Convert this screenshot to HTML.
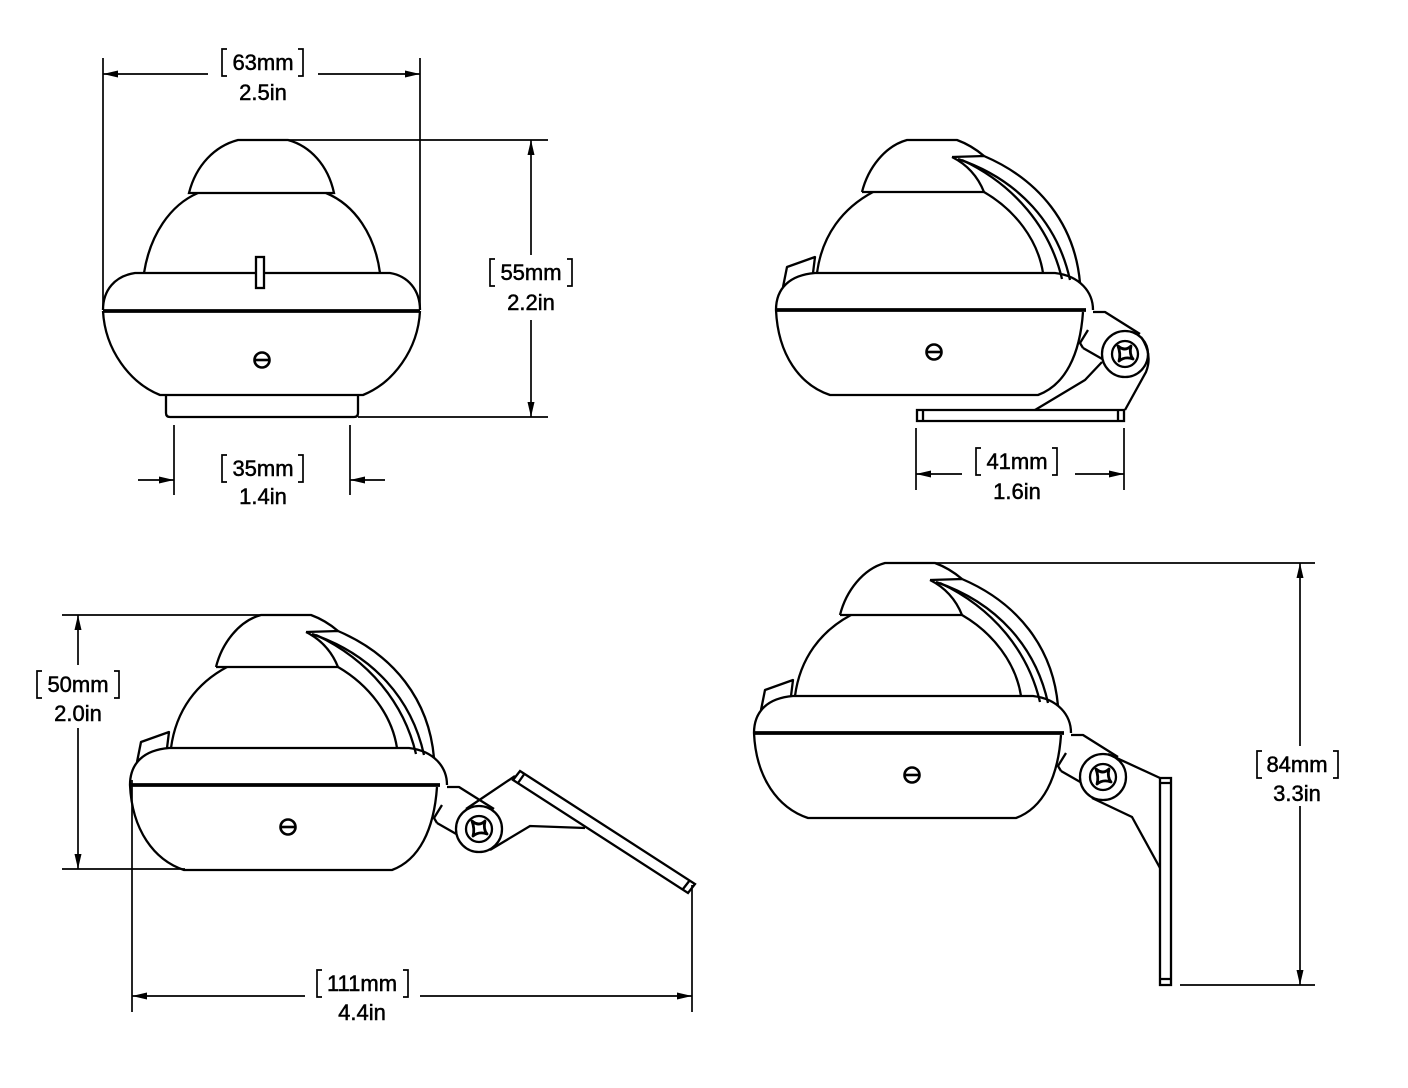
<!DOCTYPE html>
<html><head><meta charset="utf-8"><style>
html,body{margin:0;padding:0;background:#fff;}
svg{display:block}
text{font-family:"Liberation Sans",Arial,sans-serif;font-size:22px;fill:#000;stroke:#000;stroke-width:0.5;text-anchor:middle}
</style></head><body>
<svg width="1408" height="1088" viewBox="0 0 1408 1088" xmlns="http://www.w3.org/2000/svg">
<defs>
<g id="body" fill="none" stroke="#000" stroke-width="2.3" stroke-linejoin="round">
  <path d="M862,192 C868,168 885,146 907,140 L957,140 C968,144 977,150 984,156"/>
  <path d="M862,192 L984,192"/>
  <path d="M952,157 L984,156 C1040,180 1075,225 1080,283"/>
  <path d="M952,157 C968,165 978,177 984,192"/>
  <path d="M958,159 C1020,180 1058,225 1070,280"/>
  <path d="M962,160 C1015,185 1050,228 1062,279"/>
  <path d="M817,273 C822,235 843,208 873,192"/>
  <path d="M984,192 C1015,210 1038,240 1043,273"/>
  <path d="M783,287 L787,267 L815,257 L813,273"/>
  <path d="M776,310 C776,288 790,275 815,273 L1055,273 C1080,276 1093,292 1093,310"/>
  <path d="M776,310 L1086,310" stroke-width="3.8"/>
  <path d="M776,310 C778,355 800,385 830,395 L1038,395 C1065,385 1080,355 1083,312"/>
  <circle cx="934" cy="352" r="7.5" stroke-width="2.6"/>
  <path d="M926,352 L942,352" stroke-width="2.6"/>
  <path d="M1093,312 L1105,312 L1140,334"/>
  <path d="M1083,348 L1080,343 L1088,330"/>
  <path d="M1083,348 L1104,360"/>
  <circle cx="1125" cy="354" r="23" fill="#fff"/>
  <circle cx="1125" cy="354" r="13"/>
  <path d="M1118,346 Q1125,352 1131,346 Q1129,354 1133,359 Q1125,356 1119,361 Q1121,354 1118,346 Z" stroke-width="2.8"/>
</g>
<path id="ah" d="M0,0 L-15,-3.5 L-15,3.5 Z" fill="#000"/>
</defs>

<g fill="none" stroke="#000" stroke-width="1.7">
<g stroke-width="2.3">
<path d="M189,193 C196,165 215,146 238,140 L288,140 C310,146 328,165 334,193 Z"/>
<path d="M144,273 C150,235 170,205 198,193"/>
<path d="M326,193 C355,205 375,235 380,273"/>
<path d="M103,310 C103,290 115,276 135,273 L390,273 C408,276 420,290 420,310"/>
<path d="M103,311 L420,311" stroke-width="3.8"/>
<path d="M103,311 C105,350 130,383 160,395 L363,395 C393,383 418,350 420,311"/>
<path d="M166,395 L166,413 Q166,417 170,417 L354,417 Q358,417 358,413 L358,395"/>
<rect x="256" y="257" width="8" height="31" fill="#fff"/>
<circle cx="262" cy="360" r="7.5" stroke-width="2.6"/>
<path d="M254,360 L270,360" stroke-width="2.6"/>
</g>
<path d="M103,58 L103,310 M420,58 L420,310 M103,74 L208,74 M318,74 L420,74"/>
<path d="M288,140 L548,140 M358,417 L548,417 M531,140 L531,255 M531,320 L531,417"/>
<path d="M174,425 L174,495 M350,425 L350,495 M138,480 L174,480 M350,480 L385,480"/>

<use href="#body"/>
<use href="#body" transform="translate(-646,475)"/>
<use href="#body" transform="translate(-22,423)"/>

<g stroke-width="2.3">
<path d="M1141,337 C1150,350 1150,362 1146,372 L1125,410"/>
<path d="M1102,362 L1085,380 L1035,410"/>
<path d="M917,410 L1124,410 L1124,421 L917,421 Z M923,410 L923,421 M1118,410 L1118,421"/>
<path d="M466,809 L515,776"/>
<path d="M490,850 L530,826 L585,828"/>
<path d="M520,771 L695,884 L688,893 L513,780 Z M518,783 L525,773 M683,889 L690,880"/>
<path d="M1108,754 L1160,778"/>
<path d="M1092,798 L1132,817 L1160,868"/>
<path d="M1160,778 L1171,778 L1171,985 L1160,985 Z M1160,783 L1171,783 M1160,979 L1171,979"/>
</g>

<path d="M916,428 L916,490 M1124,428 L1124,490 M916,474 L962,474 M1075,474 L1124,474"/>
<path d="M62,615 L262,615 M62,869 L185,869 M78,615 L78,665 M78,728 L78,869"/>
<path d="M132,780 L132,1012 M692,885 L692,1012 M132,996 L305,996 M420,996 L692,996"/>
<path d="M935,563 L1315,563 M1180,985 L1315,985 M1300,563 L1300,746 M1300,806 L1300,985"/>

<path d="M227,49 L222,49 L222,76 L227,76 M298,49 L303,49 L303,76 L298,76"/>
<path d="M495,259 L490,259 L490,286 L495,286 M567,259 L572,259 L572,286 L567,286"/>
<path d="M227,455 L222,455 L222,482 L227,482 M298,455 L303,455 L303,482 L298,482"/>
<path d="M981,448 L976,448 L976,475 L981,475 M1052,448 L1057,448 L1057,475 L1052,475"/>
<path d="M42,671 L37,671 L37,698 L42,698 M114,671 L119,671 L119,698 L114,698"/>
<path d="M322,970 L317,970 L317,997 L322,997 M403,970 L408,970 L408,997 L403,997"/>
<path d="M1262,751 L1257,751 L1257,778 L1262,778 M1333,751 L1338,751 L1338,778 L1333,778"/>
</g>

<use href="#ah" transform="translate(103,74) rotate(180)"/>
<use href="#ah" transform="translate(420,74)"/>
<use href="#ah" transform="translate(531,140) rotate(-90)"/>
<use href="#ah" transform="translate(531,417) rotate(90)"/>
<use href="#ah" transform="translate(174,480)"/>
<use href="#ah" transform="translate(350,480) rotate(180)"/>
<use href="#ah" transform="translate(916,474) rotate(180)"/>
<use href="#ah" transform="translate(1124,474)"/>
<use href="#ah" transform="translate(78,615) rotate(-90)"/>
<use href="#ah" transform="translate(78,869) rotate(90)"/>
<use href="#ah" transform="translate(132,996) rotate(180)"/>
<use href="#ah" transform="translate(692,996)"/>
<use href="#ah" transform="translate(1300,563) rotate(-90)"/>
<use href="#ah" transform="translate(1300,985) rotate(90)"/>

<text x="263" y="70">63mm</text><text x="263" y="100">2.5in</text>
<text x="531" y="280">55mm</text><text x="531" y="310">2.2in</text>
<text x="263" y="476">35mm</text><text x="263" y="504">1.4in</text>
<text x="1017" y="469">41mm</text><text x="1017" y="499">1.6in</text>
<text x="78" y="692">50mm</text><text x="78" y="721">2.0in</text>
<text x="362" y="991">111mm</text><text x="362" y="1020">4.4in</text>
<text x="1297" y="772">84mm</text><text x="1297" y="801">3.3in</text>
</svg>
</body></html>
